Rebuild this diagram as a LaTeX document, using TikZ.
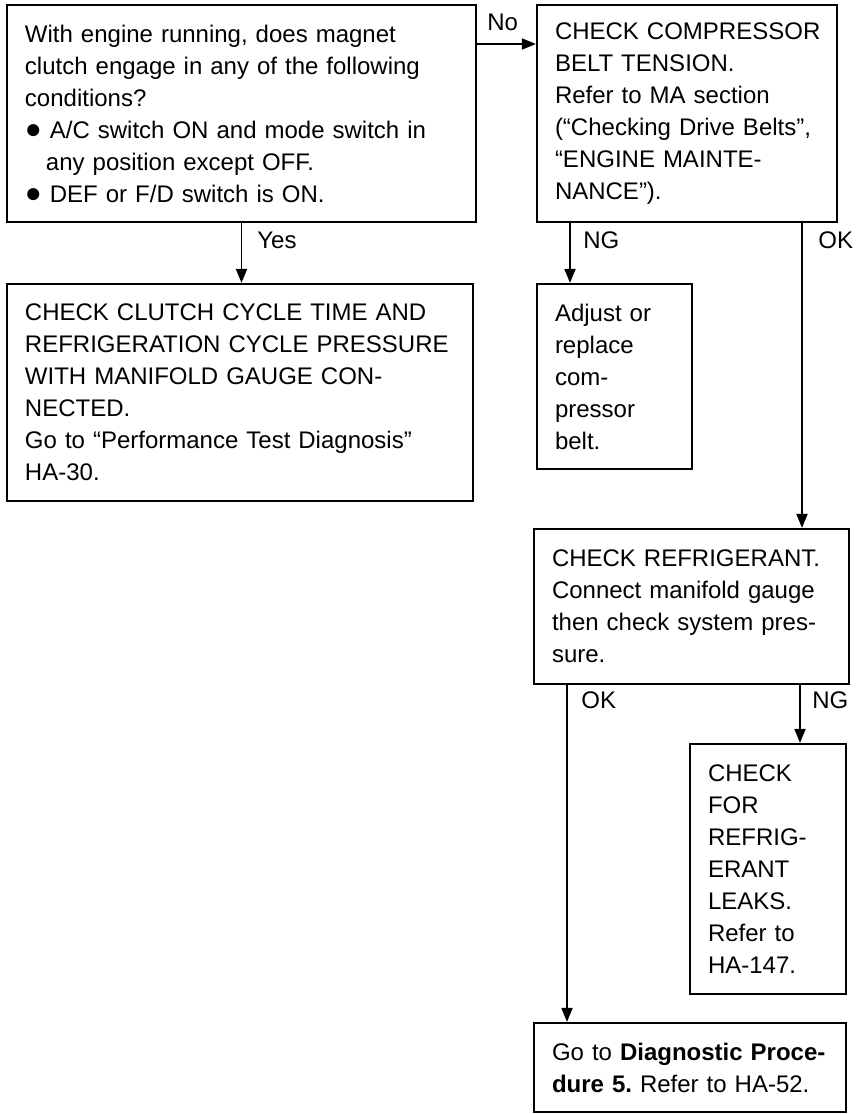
\documentclass[tikz,border=0pt]{standalone}
\usepackage{fontspec}
\setmainfont{Liberation Sans}
\usetikzlibrary{arrows.meta}
\newcommand{\blt}{{\fontsize{14}{16}\selectfont ●}}
\frenchspacing
\begin{document}
\begin{tikzpicture}[x=0.5pt, y=-0.5pt, >={Triangle[length=7pt,width=5.5pt]},
    box/.style={draw, line width=1.1pt, inner xsep=9pt, inner ysep=0pt, align=left,
        font=\fontsize{12}{16}\selectfont},
    lbl/.style={anchor=west, inner sep=0pt, font=\fontsize{12}{16}\selectfont},
    link/.style={->, line width=0.9pt}]
    \useasboundingbox (0,0) rectangle (856,1114);

    \node[box, text width=216.5pt, minimum height=108.5pt] (qa) at (241.5,113.5)
        {With engine running, does magnet\\clutch engage in any of the following\\conditions?\\%
         \blt\ A/C switch ON and mode switch in\\\hspace*{10.5pt}any position except OFF.\\%
         \blt\ DEF or F/D switch is ON.};
    \node[box, text width=132pt, minimum height=108.5pt] (belt) at (687,113.5)
        {\mbox{CHECK COMPRESSOR}\\BELT TENSION.\\Refer to MA section\\\mbox{(“Checking Drive Belts”,}\\“ENGINE MAINTE-\\NANCE”).};
    \node[box, text width=215pt, minimum height=108.5pt] (clutch) at (240,392.5)
        {\mbox{CHECK CLUTCH CYCLE TIME AND}\\\mbox{REFRIGERATION CYCLE PRESSURE}\\WITH MANIFOLD GAUGE CON-\\NECTED.\\%
         \mbox{Go to “Performance Test Diagnosis”}\\HA-30.};
    \node[box, text width=59.5pt, minimum height=92.5pt] (adjust) at (614.5,376.5)
        {Adjust or\\replace\\com-\\pressor\\belt.};
    \node[box, text width=139.5pt, minimum height=77.5pt] (refr) at (691.5,606.5)
        {\mbox{CHECK REFRIGERANT.}\\\mbox{Connect manifold gauge}\\\mbox{then check system pres-}\\sure.};
    \node[box, text width=60pt, minimum height=125pt] (leak) at (768,869)
        {CHECK\\FOR\\REFRIG-\\ERANT\\LEAKS.\\Refer to\\HA-147.};
    \node[box, text width=138pt, minimum height=44.5pt] (diag) at (690,1067.5)
        {\mbox{Go to \textbf{Diagnostic Proce-}}\\\mbox{\textbf{dure 5.} Refer to HA-52.}};

    \draw[link] (qa.east |- 0,44) -- (belt.west |- 0,44);
    \draw[link] (qa.south) -- (qa.south |- clutch.north);
    \draw[link] (belt.south -| 570,0) -- (adjust.north -| 570,0);
    \draw[link] (belt.south -| 802,0) -- (refr.north -| 802,0);
    \draw[link] (refr.south -| 800,0) -- (leak.north -| 800,0);
    \draw[link] (refr.south -| 567,0) -- (diag.north -| 567,0);

    \node[lbl] (no) at (487,22) {No};
    \node[lbl] (yes) at (257,240) {Yes};
    \node[lbl] (beltng) at (583,240) {NG};
    \node[lbl] (beltok) at (818,240) {OK};
    \node[lbl] (refrok) at (581,700) {OK};
    \node[lbl] (refrng) at (812,700) {NG};
\end{tikzpicture}
\end{document}
